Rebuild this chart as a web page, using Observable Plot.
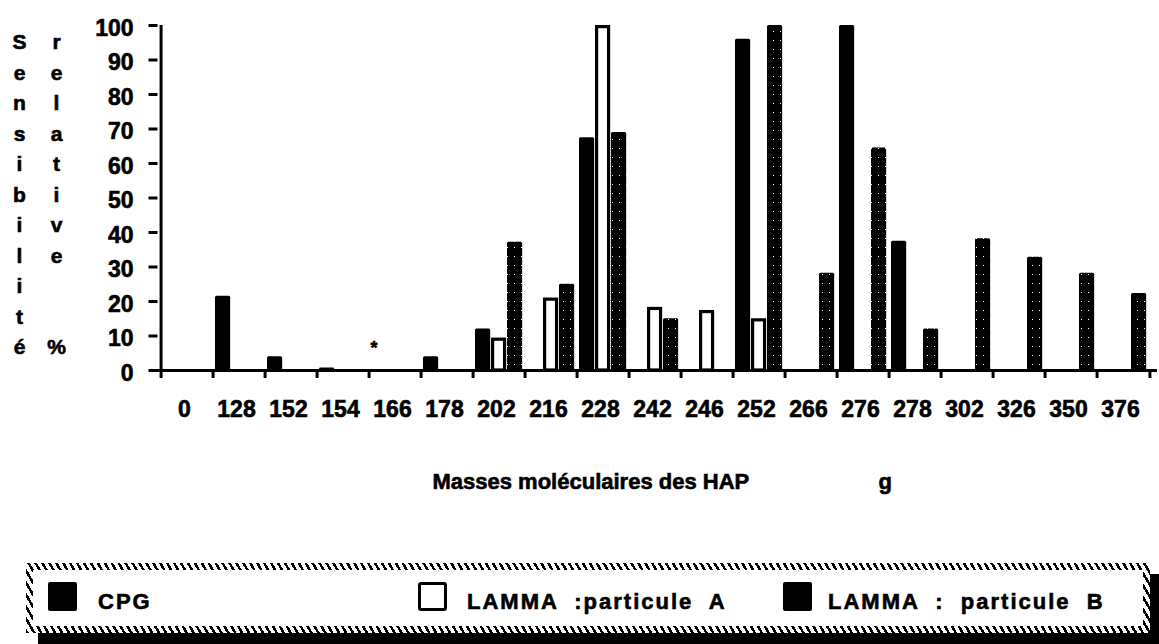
<!DOCTYPE html>
<html>
<head>
<meta charset="utf-8">
<script src="https://cdn.jsdelivr.net/npm/d3@7"></script>
<script src="https://cdn.jsdelivr.net/npm/@observablehq/plot@0.6"></script>
<style>
  html, body { margin: 0; padding: 0; background: #fff; }
  body { width: 1159px; height: 644px; overflow: hidden; position: relative;
         font-family: "Liberation Sans", Arial, sans-serif; font-weight: bold; color: #000; }
  #chart { position: absolute; left: 0; top: 0; }
  #chart svg text { stroke: #000; stroke-width: 0.6px; paint-order: stroke; }
  #legend { position: absolute; left: 26px; top: 563px; width: 1124px; height: 70px; box-sizing: border-box;
            border: 7px solid #000;
            border-image: repeating-linear-gradient(60deg, #000 0 2.5px, #fff 2.5px 6px) 7;
            box-shadow: 12px 11px 0 #000; background: #fff; }
  .lg { position: absolute; font-size: 22px; line-height: 22px; letter-spacing: 2px; white-space: pre;
        -webkit-text-stroke: 0.6px #000; }
  .sw { position: absolute; width: 29px; height: 29px; box-sizing: border-box; }
</style>
</head>
<body>
<div id="chart"></div>
<div id="legend"></div>
<div id="legend-items"></div>
<script>
// ---- data ----
const masses = ["0","128","152","154","166","178","202","216","228","242","246","252","266","276","278","302","326","350","376"];
const cpg    = [0, 21.5, 4, 0.7, 0, 4, 12, 0, 67.5, 0, 0, 96, 0, 100, 37.5, 0, 0, 0, 0];
const lammaA = [0, 0, 0, 0, 0, 0, 9.4, 21, 100, 18.3, 17.4, 15, 0, 0, 0, 0, 0, 0, 0];
const lammaB = [0, 0, 0, 0, 0, 0, 37.2, 25, 69, 15, 0, 100, 28.2, 64.5, 12, 38.2, 32.8, 28.2, 22.3];
const yTicks = [0, 10, 20, 30, 40, 50, 60, 70, 80, 90, 100];
const notes  = [{masse: "166", value: 7.8, text: "*"}];
const yTitle = "Sensibilité";
const yTitle2 = "relative";
const yUnit = "%";
const xTitle = "Masses moléculaires des HAP";
const xUnit = "g";
const seriesNames = ["CPG", "LAMMA  :particule  A", "LAMMA  :  particule  B"];

// ---- build rows ----
const rows = (vals) => masses.map((m, i) => ({masse: m, value: vals[i]})).filter(d => d.value > 0);
const rowsC = rows(cpg), rowsA = rows(lammaA), rowsB = rows(lammaB);

const W = 1159, ML = 153, MR = 2;
const bw = (W - ML - MR) / masses.length;

const defs = () => {
  const d = document.createElementNS("http://www.w3.org/2000/svg", "defs");
  d.innerHTML = '<pattern id="stip" width="7" height="9" patternUnits="userSpaceOnUse">' +
    '<rect width="7" height="9" fill="#000"/><rect x="3" y="4" width="1" height="1" fill="#fff"/></pattern>';
  return d;
};

const col1 = yTitle.split("").join("\n");
const col2 = yTitle2.split("").concat(["", "", yUnit]).join("\n");

const chart = Plot.plot({
  width: W, height: 510,
  marginLeft: ML, marginRight: MR, marginTop: 25, marginBottom: 140,
  style: {fontFamily: "Liberation Sans, Arial, sans-serif", fontWeight: "bold", fontSize: "22px", color: "#000", background: "#fff", overflow: "visible"},
  x: {type: "band", domain: masses, padding: 0, label: null},
  y: {domain: [0, 100], label: null},
  marks: [
    defs,
    Plot.barY(rowsB, {x: "masse", y: "value", fill: "url(#stip)", insetLeft: 34, insetRight: bw - 50, rx: 1.5}),
    Plot.barY(rowsC, {x: "masse", y: "value", fill: "#000", insetLeft: 2, insetRight: bw - 18, rx: 1.5}),
    Plot.barY(rowsA, {x: "masse", y: "value", fill: "#fff", stroke: "#000", strokeWidth: 3.2, insetLeft: 19.6, insetRight: bw - 32.4, insetTop: 1.6}),
    Plot.text(notes, {x: "masse", y: "value", text: "text", dx: -bw / 2 + 5, dy: 5, fontSize: 18}),
    // axes
    Plot.axisY({ticks: yTicks, tickSize: 0, tickPadding: 20, dy: 3, fontSize: 23}),
    Plot.axisY({ticks: yTicks, tickSize: 9, dx: 4.5, strokeWidth: 3, tickFormat: () => ""}),
    Plot.axisX({tickSize: 0, tickPadding: 30, dx: -3, fontSize: 23}),
    Plot.axisX({tickSize: 8, dx: -bw / 2, strokeWidth: 3, tickFormat: () => ""}),
    Plot.axisX({ticks: [masses[masses.length - 1]], tickSize: 8, dx: bw / 2, strokeWidth: 3, tickFormat: () => ""}),
    Plot.ruleY([0], {strokeWidth: 3}),
    Plot.ruleX([masses[0]], {dx: -bw / 2, y1: 0, y2: d3.max(yTicks), strokeWidth: 3}),
    // titles
    Plot.text([col1], {text: d => d, frameAnchor: "top-left", dx: 19 - ML, dy: 2, lineAnchor: "top", lineHeight: 30.5 / 21, fontSize: 21, textAnchor: "middle"}),
    Plot.text([col2], {text: d => d, frameAnchor: "top-left", dx: 56 - ML, dy: 2, lineAnchor: "top", lineHeight: 30.5 / 21, fontSize: 21, textAnchor: "middle"}),
    Plot.text([xTitle], {text: d => d, frameAnchor: "bottom-left", dx: 432 - ML, dy: 118, textAnchor: "start", fontSize: 22}),
    Plot.text([xUnit], {text: d => d, frameAnchor: "bottom-left", dx: 878 - ML, dy: 118, textAnchor: "start", fontSize: 22})
  ]
});
document.getElementById("chart").appendChild(chart);

// ---- legend ----
const items = document.getElementById("legend-items");
const add = (html) => { items.insertAdjacentHTML("beforeend", html); };
add(`<div class="sw" style="left:48px;top:582px;background:#000;border-radius:2px"></div>`);
add(`<div class="lg" style="left:98px;top:591px">${seriesNames[0]}</div>`);
add(`<div class="sw" style="left:418px;top:582px;background:#fff;border:3.5px solid #000;border-radius:3px"></div>`);
add(`<div class="lg" style="left:467px;top:591px">${seriesNames[1]}</div>`);
add(`<div class="sw" style="left:783px;top:582px;background:#000;border-radius:2px"></div>`);
add(`<div class="lg" style="left:828px;top:591px">${seriesNames[2]}</div>`);
</script>
</body>
</html>
